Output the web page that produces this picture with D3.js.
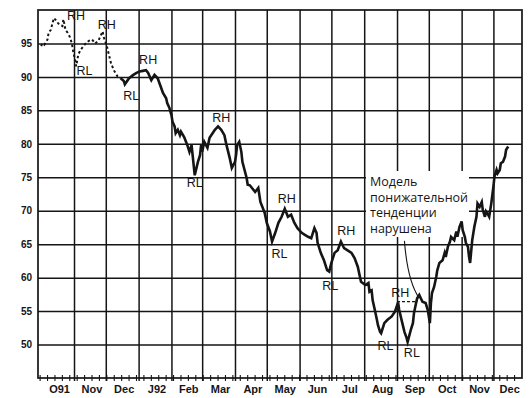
<!DOCTYPE html>
<html><head><meta charset="utf-8">
<script src="https://cdn.jsdelivr.net/npm/d3@7"></script>
<style>body{margin:0;background:#fff}</style>
</head><body>
<svg id="c" width="532" height="398"></svg>
<script>
const priceDates = [
"1991-10-01","1991-10-02","1991-10-04","1991-10-07","1991-10-08","1991-10-10","1991-10-13","1991-10-16","1991-10-17","1991-10-21","1991-10-22","1991-10-24","1991-10-26","1991-10-28","1991-10-30","1991-10-31",
"1991-11-02","1991-11-03","1991-11-05","1991-11-07","1991-11-12","1991-11-15","1991-11-18","1991-11-21","1991-11-24","1991-11-28","1991-11-29",
"1991-12-02","1991-12-04","1991-12-06","1991-12-09","1991-12-12","1991-12-15","1991-12-18","1991-12-19","1991-12-23","1991-12-27","1991-12-30",
"1992-01-02","1992-01-05","1992-01-08","1992-01-10","1992-01-13","1992-01-16","1992-01-19","1992-01-22","1992-01-24","1992-01-27","1992-01-28","1992-01-30",
"1992-02-01","1992-02-02","1992-02-04","1992-02-05","1992-02-07","1992-02-09","1992-02-10","1992-02-13","1992-02-16","1992-02-18","1992-02-20","1992-02-21","1992-02-23","1992-02-26","1992-02-28","1992-02-29",
"1992-03-01","1992-03-03","1992-03-06","1992-03-08","1992-03-13","1992-03-16","1992-03-19","1992-03-22","1992-03-24","1992-03-27","1992-03-29",
"1992-04-01","1992-04-02","1992-04-03","1992-04-05","1992-04-07","1992-04-08","1992-04-12","1992-04-13","1992-04-15","1992-04-20","1992-04-23","1992-04-25","1992-04-28","1992-04-29",
"1992-05-01","1992-05-04","1992-05-06","1992-05-09","1992-05-12","1992-05-15","1992-05-18","1992-05-21","1992-05-24","1992-05-27","1992-05-30",
"1992-06-03","1992-06-06","1992-06-09","1992-06-12","1992-06-15","1992-06-17","1992-06-18","1992-06-21","1992-06-24","1992-06-26","1992-06-27","1992-06-29",
"1992-07-01","1992-07-04","1992-07-07","1992-07-10","1992-07-13","1992-07-16","1992-07-20","1992-07-23","1992-07-26","1992-07-28","1992-07-29",
"1992-08-02","1992-08-05","1992-08-06","1992-08-08","1992-08-09","1992-08-11","1992-08-13","1992-08-14","1992-08-16","1992-08-17","1992-08-20","1992-08-23","1992-08-27","1992-08-30",
"1992-09-02","1992-09-03","1992-09-06","1992-09-08","1992-09-10","1992-09-11","1992-09-14","1992-09-16","1992-09-17","1992-09-19","1992-09-20","1992-09-22","1992-09-25","1992-09-28","1992-09-30",
"1992-10-02","1992-10-03","1992-10-04","1992-10-06","1992-10-08","1992-10-09","1992-10-11","1992-10-14","1992-10-16","1992-10-17","1992-10-19","1992-10-21","1992-10-22","1992-10-25","1992-10-27","1992-10-28","1992-10-30",
"1992-11-01","1992-11-02","1992-11-04","1992-11-05","1992-11-07","1992-11-08","1992-11-09","1992-11-11","1992-11-13","1992-11-15","1992-11-16","1992-11-18","1992-11-20","1992-11-21","1992-11-23","1992-11-24","1992-11-26","1992-11-27","1992-11-29",
"1992-12-01","1992-12-02","1992-12-04","1992-12-05","1992-12-07","1992-12-08","1992-12-10","1992-12-12","1992-12-13","1992-12-15"
];
const priceValues = [
94.6,95.0,94.8,95.6,96.6,97.0,98.8,98.3,98.0,97.6,98.6,97.0,96.6,96.0,95.0,94.0,
92.5,91.6,93.3,94.0,95.0,95.4,95.6,95.0,95.4,96.8,96.0,
94.6,93.3,92.0,90.9,90.1,89.8,89.4,88.9,89.8,90.3,90.6,
90.8,90.9,91.0,90.6,89.5,90.3,89.8,88.5,87.6,86.8,86.1,85.4,
84.3,83.3,82.6,81.6,82.1,81.3,81.8,81.0,79.8,78.8,79.8,78.3,75.3,77.3,78.3,79.8,
78.8,80.3,79.4,80.9,82.1,82.6,82.1,81.3,79.8,77.9,76.4,
77.3,78.3,79.8,80.3,78.8,77.3,74.9,73.9,73.8,72.8,73.4,71.3,70.1,69.7,
68.2,66.9,65.4,66.7,68.2,69.1,70.3,69.1,69.4,68.2,67.4,
66.7,66.4,66.1,65.9,67.4,66.7,65.2,63.7,62.6,61.6,61.1,60.9,
62.2,63.7,64.1,65.4,64.4,64.1,63.7,62.9,61.6,60.1,59.4,
58.9,59.2,57.9,58.1,56.6,55.2,53.7,52.9,51.9,51.7,53.2,53.7,54.2,54.9,
56.3,55.2,53.2,51.9,51.0,50.4,52.2,53.2,54.7,56.2,56.9,57.4,56.4,56.2,55.2,
53.2,56.2,57.7,58.6,60.1,61.1,62.2,62.6,63.7,63.1,64.6,65.4,66.1,65.6,66.9,66.1,67.6,
68.4,67.1,66.1,65.2,64.6,63.1,62.2,65.6,67.6,69.1,71.1,70.6,71.3,70.1,69.1,69.9,69.4,69.1,71.1,
73.6,75.1,76.1,75.6,76.1,77.1,77.3,78.1,79.1,79.6
];
const yTickValues = [50,55,60,65,70,75,80,85,90,95];
const monthLabels = ["O91","Nov","Dec","J92","Feb","Mar","Apr","May","Jun","Jul","Aug","Sep","Oct","Nov","Dec"];
const swingLabels = ["RH","RL","RH","RL","RH","RL","RH","RL","RH","RL","RH","RL","RH","RL"];
const swingDates  = ["1991-11-03","1991-11-11","1991-12-02","1991-12-25","1992-01-10","1992-02-23","1992-03-19","1992-05-13","1992-05-20","1992-06-30","1992-07-15","1992-08-21","1992-09-04","1992-09-15"];
const swingValues = [98.5,90.3,97.2,86.6,91.9,73.5,83.3,62.9,71.2,58.2,66.4,49.2,57.1,48.1];
const noteLines = ["Модель","понижательной","тенденции","нарушена"];
const breakLevel = 56.4;
const breakFrom = "1992-09-01", breakTo = "1992-09-20";

const parse = d3.timeParse("%Y-%m-%d");
const svg = d3.select("#c");
const L = 38, R = 522, T = 10, B = 378;
const x = d3.scaleTime().domain([new Date(1991,8,28), new Date(1992,11,28)]).range([L, R]);
const y = d3.scaleLinear().domain([45,100]).range([B, T]);
const ink = "#151515";

// horizontal grid + y labels
const ya = svg.append("g").attr("transform",`translate(${L},0)`)
  .call(d3.axisLeft(y).tickValues(yTickValues).tickSize(-(R-L)).tickPadding(6));
ya.select(".domain").remove();
ya.selectAll("line").attr("stroke",ink).attr("stroke-width",1.5);
ya.selectAll("text").attr("font-family","Liberation Sans, Arial, sans-serif").attr("font-weight","bold").attr("font-size",10).attr("fill",ink);

// vertical month grid
const monthStarts = d3.timeMonth.range(new Date(1991,9,1), new Date(1993,0,1));
const xa = svg.append("g").attr("transform",`translate(0,${B})`)
  .call(d3.axisBottom(x).tickValues(monthStarts.slice(1)).tickSize(-(B-T)).tickFormat(""));
xa.select(".domain").remove();
xa.selectAll("line").attr("stroke",ink).attr("stroke-width",1.5).attr("y2", -(B-T)).attr("y1",3);

// weekly ticks on bottom axis
const weeks = d3.timeMonday.range(new Date(1991,8,28), new Date(1992,11,28));
svg.append("g").selectAll("line").data(weeks).join("line")
  .attr("x1",d=>x(d)).attr("x2",d=>x(d)).attr("y1",B-3).attr("y2",B+3)
  .attr("stroke",ink).attr("stroke-width",1.1);

// month labels
const monthEnds = monthStarts.map(d=>d3.timeMonth.offset(d,1));
svg.append("g").selectAll("text").data(monthLabels).join("text")
  .attr("x",(d,i)=> (x(monthStarts[i]) + Math.min(x(monthEnds[i]),R))/2 + 2)
  .attr("y",393).attr("text-anchor","middle")
  .attr("font-family","Liberation Sans, Arial, sans-serif").attr("font-weight","bold").attr("font-size",11)
  .attr("fill",ink).text(d=>d);

// border
svg.append("rect").attr("x",L).attr("y",T).attr("width",R-L).attr("height",B-T)
  .attr("fill","none").attr("stroke",ink).attr("stroke-width",1.7);

// white backing for the note
svg.append("rect").attr("x",366).attr("y",171).attr("width",103).attr("height",66).attr("fill","#fff");

// price line
const pts = priceDates.map((d,i)=>({date:parse(d), v:priceValues[i]}));
const line = d3.line().x(d=>x(d.date)).y(d=>y(d.v));
const cut = parse("1991-12-16");
const early = pts.filter(d=>d.date <= cut), late = pts.filter(d=>d.date >= d3.timeDay.offset(cut,-3));
svg.append("path").datum(early).attr("d",line).attr("fill","none").attr("stroke",ink)
  .attr("stroke-width",2).attr("stroke-dasharray","2.5,2.5");
svg.append("path").datum(late).attr("d",line).attr("fill","none").attr("stroke",ink)
  .attr("stroke-width",2.6).attr("stroke-linejoin","miter");

// swing labels
svg.append("g").selectAll("text").data(swingLabels).join("text")
  .attr("x",(d,i)=>x(parse(swingDates[i]))).attr("y",(d,i)=>y(swingValues[i]))
  .attr("text-anchor","middle").attr("font-family","Liberation Sans, Arial, sans-serif")
  .attr("font-size",12.5).attr("fill",ink).text(d=>d);

// break dashed level
svg.append("line").attr("x1",x(parse(breakFrom))).attr("x2",x(parse(breakTo)))
  .attr("y1",y(breakLevel)).attr("y2",y(breakLevel)).attr("stroke",ink).attr("stroke-width",1.2)
  .attr("stroke-dasharray","3,2");

// note text
svg.append("g").selectAll("text").data(noteLines).join("text")
  .attr("x",370).attr("y",(d,i)=>186 + i*15.5)
  .attr("font-family","Open Sans, Liberation Sans, sans-serif").attr("font-size",12.5)
  .attr("fill",ink).text(d=>d);

// pointer curve
const sx = x(parse("1992-09-08")), sy = y(65.5), ex = x(parse("1992-09-22")), ey = y(56.9);
svg.append("path").attr("d",`M${sx},${sy} Q${sx+3},${sy+40} ${ex},${ey}`)
  .attr("fill","none").attr("stroke",ink).attr("stroke-width",1.1);
</script>
</body></html>
